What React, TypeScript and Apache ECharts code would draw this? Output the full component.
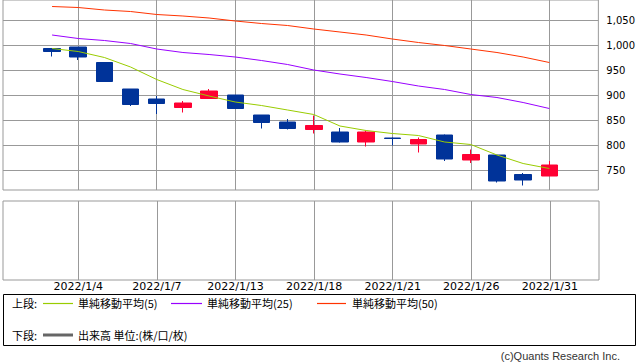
import React, { useEffect, useRef } from "react";
import * as echarts from "echarts";

const dates = [
  "2021/12/30", "2022/1/4", "2022/1/5", "2022/1/6", "2022/1/7", "2022/1/11", "2022/1/12",
  "2022/1/13", "2022/1/14", "2022/1/17", "2022/1/18", "2022/1/19", "2022/1/20", "2022/1/21",
  "2022/1/24", "2022/1/25", "2022/1/26", "2022/1/27", "2022/1/28", "2022/1/31",
];
const opens = [993, 996, 965, 912, 892, 875, 893, 900, 860, 846, 831, 826, 806, 814, 802, 820, 770, 780, 741, 738];
const closes = [987, 976, 927, 881, 883, 884, 908, 873, 845, 833, 839, 806, 826, 813, 811, 772, 781, 728, 730, 760];
const lows = [977, 970, 927, 878, 862, 865, 893, 872, 833, 831, 823, 805, 797, 799, 785, 768, 764, 725, 719, 738];
const highs = [993, 996, 965, 912, 898, 888, 912, 900, 860, 852, 859, 834, 828, 815, 815, 821, 791, 780, 744, 768];
const ma5 = [993, 987, 975, 956, 931, 911, 898, 886, 879, 870, 861, 838, 829, 823, 819, 806, 801, 780, 763, 753];
const ma25 = [1020, 1013, 1009, 1003, 992, 985, 981, 976, 969, 961, 950, 942, 935, 927, 918, 911, 901, 895, 885, 873];
const ma50 = [1077, 1075, 1070, 1067, 1061, 1058, 1054, 1048, 1043, 1039, 1032, 1026, 1020, 1012, 1005, 999, 992, 985, 976, 965];
const xTickLabels = ["2022/1/4", "2022/1/7", "2022/1/13", "2022/1/18", "2022/1/21", "2022/1/26", "2022/1/31"];
const yTicks = [750, 800, 850, 900, 950, 1000, 1050];

const GRID_COLOR = "#999999";
const UP = "#ff0033";
const DOWN = "#003399";
const C5 = "#99cc00";
const C25 = "#9900ff";
const C50 = "#ff3300";

export default function App() {
  const ref = useRef<HTMLDivElement>(null);
  useEffect(() => {
    if (!ref.current) return;
    const chart = echarts.init(ref.current, undefined, { renderer: "svg" });
    const xTickIdx = xTickLabels.map((d) => dates.indexOf(d));
    const candleData = dates.map((_, i) => [i, opens[i], closes[i], lows[i], highs[i]]);
    const line = (arr: number[]) => arr.map((v, i) => [i, v]);
    const xMin = -1.875;
    const xMax = dates.length - 1 + 1.875;
    const gridX = { left: 3, width: 596 };
    const cjk = "'Noto Sans CJK JP', sans-serif";
    const legendText = (x: number, y: number, text: string) => ({
      type: "text", x, y,
      style: { text, fill: "#000", font: `11px ${cjk}`, verticalAlign: "middle" },
    });
    const legendLine = (x1: number, x2: number, y: number, color: string, w = 1) => ({
      type: "line", shape: { x1, y1: y, x2, y2: y }, style: { stroke: color, lineWidth: w },
    });
    chart.setOption({
      animation: false,
      grid: [
        { ...gridX, top: 0, height: 190, show: true, borderColor: GRID_COLOR, borderWidth: 1, backgroundColor: "#fff" },
        { ...gridX, top: 201, height: 79, show: true, borderColor: GRID_COLOR, borderWidth: 1, backgroundColor: "#fff" },
      ],
      xAxis: [
        {
          type: "value", gridIndex: 0, min: xMin, max: xMax,
          axisLine: { show: false },
          axisTick: { show: false, customValues: xTickIdx },
          axisLabel: { show: false, customValues: xTickIdx },
          splitLine: { show: true, lineStyle: { color: GRID_COLOR, width: 1 } },
        },
        {
          type: "value", gridIndex: 1, min: xMin, max: xMax,
          axisLine: { show: false },
          axisTick: { show: false, customValues: xTickIdx },
          axisLabel: {
            show: true, customValues: xTickIdx, margin: 1,
            color: "#000", fontSize: 11, fontFamily: "'DejaVu Sans', sans-serif",
            formatter: (v: number) => dates[Math.round(v)] ?? "",
          },
          splitLine: { show: true, lineStyle: { color: GRID_COLOR, width: 1 } },
        },
      ],
      yAxis: [
        {
          type: "value", gridIndex: 0, position: "right", min: 710, max: 1090,
          axisLine: { show: false },
          axisTick: { show: true, customValues: yTicks, length: 4, lineStyle: { color: GRID_COLOR } },
          axisLabel: {
            customValues: yTicks, margin: 8, color: "#000", fontSize: 10,
            fontFamily: "'DejaVu Sans', sans-serif",
            formatter: (v: number) => v.toLocaleString("en-US"),
          },
          splitLine: { show: true, lineStyle: { color: GRID_COLOR, width: 1 } },
        },
        {
          type: "value", gridIndex: 1, position: "right", min: 0, max: 1,
          axisLine: { show: false }, axisTick: { show: false }, axisLabel: { show: false },
          splitLine: { show: false },
        },
      ],
      series: [
        {
          type: "candlestick", xAxisIndex: 0, yAxisIndex: 0,
          data: candleData, encode: { x: 0, y: [1, 2, 3, 4] },
          barWidth: 17,
          itemStyle: { color: UP, color0: DOWN, borderColor: UP, borderColor0: DOWN, borderWidth: 1 },
        },
        { type: "line", xAxisIndex: 0, yAxisIndex: 0, data: line(ma25), showSymbol: false, symbol: "none", lineStyle: { color: C25, width: 1 } },
        { type: "line", xAxisIndex: 0, yAxisIndex: 0, data: line(ma50), showSymbol: false, symbol: "none", lineStyle: { color: C50, width: 1 } },
        { type: "line", xAxisIndex: 0, yAxisIndex: 0, data: line(ma5), showSymbol: false, symbol: "none", lineStyle: { color: C5, width: 1 } },
      ],
      graphic: [
        { type: "rect", shape: { x: 3.5, y: 294.5, width: 632, height: 51 }, style: { fill: "#fff", stroke: "#000", lineWidth: 1 } },
        legendText(12, 303, "上段:"),
        legendLine(43, 73, 303.5, C5, 1.2),
        legendText(78, 303, "単純移動平均(5)"),
        legendLine(171, 202, 303.5, C25, 1.2),
        legendText(207, 303, "単純移動平均(25)"),
        legendLine(317, 346, 303.5, C50, 1.2),
        legendText(352, 303, "単純移動平均(50)"),
        legendText(12, 335, "下段:"),
        legendLine(43, 73, 335, "#666666", 3),
        legendText(78, 335, "出来高 単位:(株/口/枚)"),
        {
          type: "text", x: 620, y: 356,
          style: { text: "(c)Quants Research Inc.", fill: "#333", font: "11px 'Liberation Sans', sans-serif", align: "right", verticalAlign: "middle" },
        },
      ],
    });
    return () => chart.dispose();
  }, []);
  return (
    <div
      ref={ref}
      style={{ position: "absolute", left: 0, top: 0, width: 638, height: 362, background: "#fff" }}
    />
  );
}
